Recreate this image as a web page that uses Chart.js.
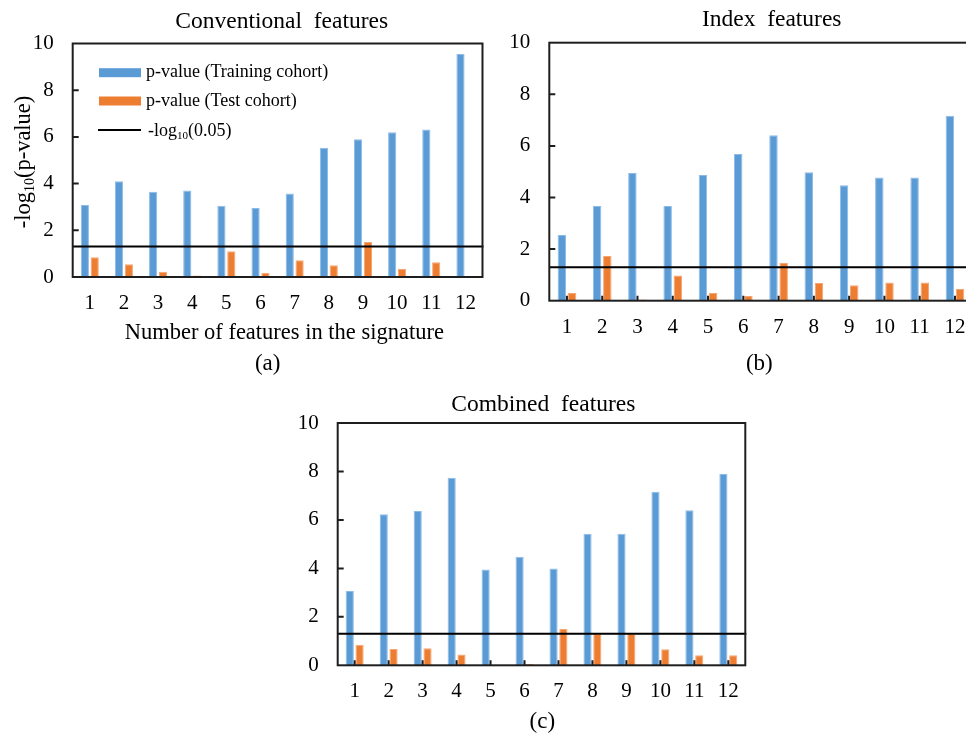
<!DOCTYPE html>
<html>
<head>
<meta charset="utf-8">
<script src="https://cdn.jsdelivr.net/npm/chart.js@4.4.1/dist/chart.umd.min.js"></script>
<style>
  html, body { margin: 0; padding: 0; background: #fff; width: 966px; height: 733px; overflow: hidden; }
  canvas { position: absolute; }
</style>
</head>
<body>
<canvas id="chartA" width="490" height="385" style="left:0;top:0"></canvas>
<canvas id="chartB" width="500" height="385" style="left:490px;top:0"></canvas>
<canvas id="chartC" width="480" height="348" style="left:280px;top:385px"></canvas>
<script>
// Number of features in the signature
const featureCounts = ['1', '2', '3', '4', '5', '6', '7', '8', '9', '10', '11', '12'];

// -log10(p-value), conventional features
const conventionalTraining = [3.08, 4.10, 3.65, 3.70, 3.05, 2.95, 3.58, 5.53, 5.90, 6.20, 6.32, 9.55];
const conventionalTest     = [0.85, 0.55, 0.22, 0.06, 1.10, 0.18, 0.72, 0.50, 1.50, 0.34, 0.63, 0.00];

// -log10(p-value), index features
const indexTraining = [2.55, 3.67, 4.95, 3.67, 4.87, 5.69, 6.41, 4.98, 4.47, 4.78, 4.78, 7.17];
const indexTest     = [0.30, 1.73, 0.05, 0.98, 0.30, 0.18, 1.46, 0.69, 0.60, 0.71, 0.71, 0.45];

// -log10(p-value), combined features
const combinedTraining = [3.07, 6.23, 6.37, 7.74, 3.95, 4.48, 3.99, 5.43, 5.43, 7.16, 6.40, 7.90];
const combinedTest     = [0.85, 0.67, 0.70, 0.45, 0.00, 0.05, 1.50, 1.30, 1.30, 0.66, 0.41, 0.41];

// significance level -log10(0.05)
const significanceLine = 1.301;
const yTickValues = [0, 2, 4, 6, 8, 10];

const SERIF = '"Liberation Serif", "Times New Roman", Times, serif';
const BLUE = '#5B9BD5', BLUE_EDGE = '#8DBBE6';
const ORANGE = '#ED7D31', ORANGE_EDGE = '#F4A672';

// Draw a run of text pieces, some of them as subscripts
function richWidth(ctx, parts, size) {
  let w = 0;
  for (const p of parts) {
    ctx.font = (p.sub ? Math.round(size * 0.62) : size) + 'px ' + SERIF;
    w += ctx.measureText(p.t).width;
  }
  return w;
}
function drawRich(ctx, parts, x, y, size, align) {
  const w = richWidth(ctx, parts, size);
  let cx = align === 'center' ? x - w / 2 : x;
  ctx.textBaseline = 'middle';
  ctx.textAlign = 'left';
  for (const p of parts) {
    const s = p.sub ? Math.round(size * 0.62) : size;
    ctx.font = s + 'px ' + SERIF;
    ctx.fillText(p.t, cx, p.sub ? y + size * 0.28 : y);
    cx += ctx.measureText(p.t).width;
  }
}

const panelPlugin = {
  id: 'panel',
  afterDatasetsDraw(chart, args, o) {
    const { ctx, chartArea: a, scales: { x, y } } = chart;
    ctx.save();
    // significance threshold across the plot
    const ty = y.getPixelForValue(o.threshold);
    ctx.strokeStyle = '#000';
    ctx.lineWidth = 2;
    ctx.beginPath();
    ctx.moveTo(a.left, ty);
    ctx.lineTo(a.right + 1, ty);
    ctx.stroke();
    // plot frame
    ctx.strokeStyle = '#1e1e1e';
    ctx.lineWidth = 2;
    ctx.strokeRect(a.left, a.top, a.right - a.left, a.bottom - a.top);
    // inward tick marks
    ctx.beginPath();
    for (const v of yTickValues) {
      if (v === 0 || v === 10) continue;
      const py = y.getPixelForValue(v);
      ctx.moveTo(a.left, py);
      ctx.lineTo(a.left + 6, py);
    }
    if (o.xTicks) {
      for (let i = 0; i < featureCounts.length; i++) {
        const px = x.getPixelForValue(i);
        ctx.moveTo(px, a.bottom);
        ctx.lineTo(px, a.bottom - 5);
      }
    }
    ctx.stroke();
    ctx.restore();
  },
  afterDraw(chart, args, o) {
    const { ctx } = chart;
    ctx.save();
    ctx.fillStyle = '#000';
    drawRich(ctx, [{ t: o.title }], o.titlePos[0], o.titlePos[1], 23.5, 'center');
    drawRich(ctx, [{ t: o.caption }], o.captionPos[0], o.captionPos[1], 23, 'center');
    if (o.xTitle) {
      drawRich(ctx, [{ t: o.xTitle }], o.xTitlePos[0], o.xTitlePos[1], 22.5, 'center');
    }
    if (o.yTitle) {
      ctx.save();
      ctx.translate(o.yTitlePos[0], o.yTitlePos[1]);
      ctx.rotate(-Math.PI / 2);
      drawRich(ctx, o.yTitle, 0, 0, 22.5, 'center');
      ctx.restore();
    }
    if (o.legend) {
      const L = o.legend;
      const items = chart.data.datasets;
      const rows = L.rows;
      for (let i = 0; i < 2; i++) {
        ctx.fillStyle = items[i].backgroundColor;
        ctx.fillRect(L.x, rows[i] - 4.5, L.w, 9);
        ctx.fillStyle = '#000';
        drawRich(ctx, [{ t: items[i].label }], L.x + L.w + 5, rows[i], 18, 'left');
      }
      ctx.strokeStyle = '#000';
      ctx.lineWidth = 2;
      ctx.beginPath();
      ctx.moveTo(L.x - 1, rows[2]);
      ctx.lineTo(L.x + L.w, rows[2]);
      ctx.stroke();
      drawRich(ctx, L.lineLabel, L.x + L.w + 7, rows[2] + 1, 18, 'left');
    }
    ctx.restore();
  }
};

function makeChart(id, training, test, panel, padding, xPad) {
  const tickFont = { family: SERIF, size: 21 };
  return new Chart(document.getElementById(id), {
    type: 'bar',
    data: {
      labels: featureCounts,
      datasets: [
        { label: 'p-value (Training cohort)', data: training, backgroundColor: BLUE, borderColor: BLUE_EDGE,
          borderWidth: 1, categoryPercentage: 0.578, barPercentage: 0.83 },
        { label: 'p-value (Test cohort)', data: test, backgroundColor: ORANGE, borderColor: ORANGE_EDGE,
          borderWidth: 1, categoryPercentage: 0.578, barPercentage: 0.83 }
      ]
    },
    options: {
      responsive: false,
      animation: false,
      events: [],
      layout: { padding },
      plugins: {
        legend: { display: false },
        title: { display: false },
        tooltip: { enabled: false },
        panel: Object.assign({ threshold: significanceLine }, panel)
      },
      scales: {
        x: {
          grid: { display: false, drawTicks: false },
          border: { display: false },
          ticks: { font: tickFont, color: '#000', padding: xPad, maxRotation: 0, autoSkip: false },
          afterFit(s) { s.height = 45; }
        },
        y: {
          min: 0, max: 10,
          afterBuildTicks(s) { s.ticks = yTickValues.map(v => ({ value: v })); },
          grid: { display: false, drawTicks: false },
          border: { display: false },
          ticks: { font: tickFont, color: '#000', padding: 19 },
          afterFit(s) { s.width = 50; }
        }
      }
    },
    plugins: [panelPlugin]
  });
}

const yTitleParts = [{ t: '-log' }, { t: '10', sub: true }, { t: '(p-value)' }];
const lineLabelParts = [{ t: '-log' }, { t: '10', sub: true }, { t: '(0.05)' }];

makeChart('chartA', conventionalTraining, conventionalTest, {
  title: 'Conventional  features', titlePos: [281.7, 22],
  caption: '(a)', captionPos: [267.7, 364],
  xTitle: 'Number of features in the signature', xTitlePos: [284.3, 333],
  yTitle: yTitleParts, yTitlePos: [24, 162],
  legend: { x: 99, w: 42, rows: [72.7, 101, 130], lineLabel: lineLabelParts },
  xTicks: false
}, { left: 22.7, top: 43.5, right: 2, bottom: 63 }, 14);

makeChart('chartB', indexTraining, indexTest, {
  title: 'Index  features', titlePos: [281.7, 20],
  caption: '(b)', captionPos: [269.3, 363.5],
  xTicks: true
}, { left: 9.3, top: 42.7, right: 17.4, bottom: 39.3 }, 14);

makeChart('chartC', combinedTraining, combinedTest, {
  title: 'Combined  features', titlePos: [263.3, 20],
  caption: '(c)', captionPos: [262.3, 336.7],
  xTicks: true
}, { left: 7.7, top: 38, right: 14.7, bottom: 22.7 }, 14);
</script>
</body>
</html>
